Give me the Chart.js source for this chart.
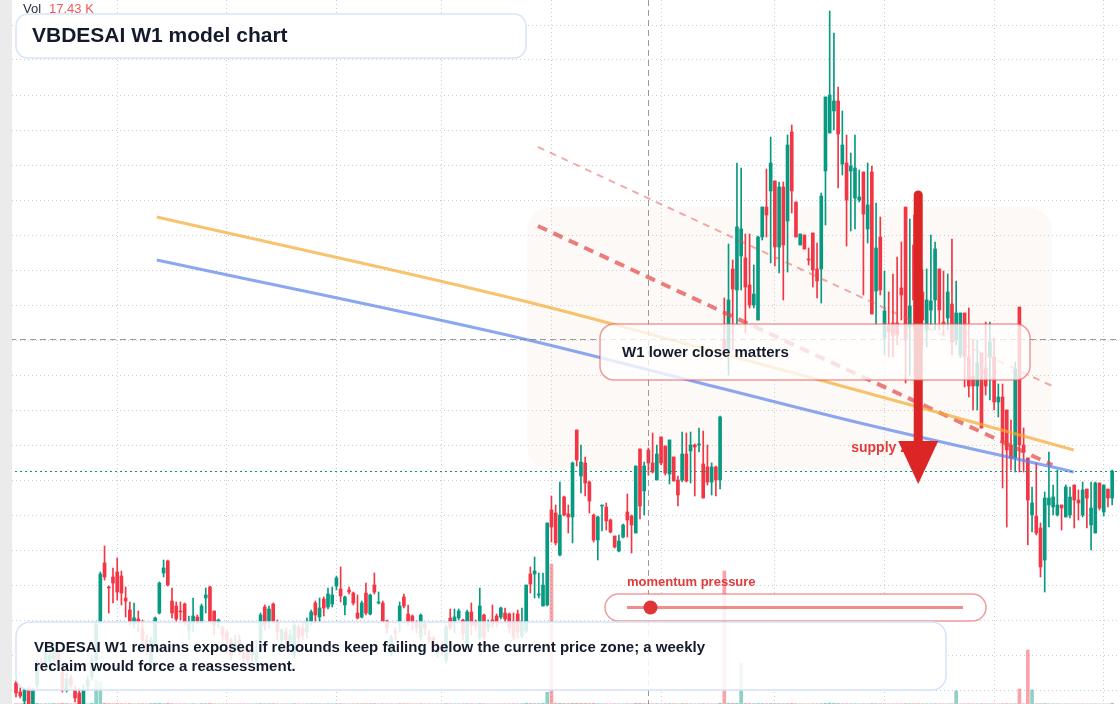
<!DOCTYPE html>
<html>
<head>
<meta charset="utf-8">
<title>VBDESAI W1 model chart</title>
<script src="https://cdn.jsdelivr.net/npm/chart.js@4.4.1/dist/chart.umd.min.js"></script>
<style>
  html, body { margin: 0; padding: 0; background: #fff; }
  #wrap { position: relative; width: 1120px; height: 704px; overflow: hidden; }
</style>
</head>
<body>
<div id="wrap"><canvas id="c" width="1120" height="704"></canvas></div>
<script>
// weekly candles, oldest first (index = week number)
const opens = [
  15.4, 13.6, 11.8, 14.2, 11.2, 15.0, 19.6, 19.2, 19.8, 20.2,
  21.6, 17.6, 14.0, 16.4, 14.0, 13.4, 11.2, 14.8, 16.6, 20.0,
  27.6, 39.4, 34.6, 36.6, 37.6, 36.8, 32.4, 30.0, 27.2, 28.2,
  26.4, 24.0, 19.0, 23.0, 29.4, 37.4, 39.8, 31.8, 30.8, 29.8,
  31.2, 26.0, 27.6, 28.6, 27.8, 32.4, 34.6, 29.8, 27.6, 26.4,
  25.4, 24.0, 22.0, 24.0, 21.0, 21.6, 21.0, 20.0, 24.0, 30.6,
  27.8, 31.2, 27.6, 24.0, 25.6, 23.6, 21.0, 26.6, 26.4, 25.6,
  27.6, 31.4, 28.6, 32.2, 30.6, 31.2, 34.8, 34.2, 31.0, 34.0,
  33.4, 29.4, 28.6, 33.4, 29.2, 35.0, 31.4, 31.4, 27.8, 21.4,
  25.8, 27.6, 32.6, 29.2, 28.8, 27.6, 24.6, 27.2, 24.6, 24.4,
  21.4, 23.0, 20.0, 28.4, 27.8, 28.4, 28.0, 23.0, 29.6, 27.6,
  24.4, 29.0, 26.4, 28.0, 28.8, 28.6, 29.4, 29.2, 27.6, 29.2,
  24.8, 25.8, 37.2, 37.2, 33.0, 30.8, 31.0, 50.0, 49.4, 41.0,
  52.6, 49.2, 48.6, 66.0, 56.8, 59.4, 55.6, 49.0, 44.0, 50.8,
  50.6, 48.0, 44.8, 41.8, 44.6, 49.6, 48.8, 45.4, 62.2, 53.8,
  62.0, 59.4, 56.0, 64.6, 62.8, 57.2, 60.6, 56.0, 56.0, 61.2,
  61.8, 63.0, 63.0, 59.2, 58.6, 55.6, 58.6, 56.0, 84.0, 82.0,
  98.2, 94.0, 100.8, 100.4, 95.0, 91.0, 88.0, 104.6, 110.6, 113.8,
  115.8, 102.6, 114.6, 107.8, 125.6, 111.6, 103.0, 105.0, 100.2, 105.4,
  98.2, 98.2, 117.8, 125.4, 129.8, 131.8, 119.2, 119.4, 117.8, 112.4,
  112.0, 117.6, 106.2, 117.6, 93.8, 104.6, 84.4, 86.8, 87.4, 87.4,
  94.4, 110.6, 86.6, 103.0, 96.0, 93.6, 86.0, 90.0, 92.0, 98.2,
  87.6, 88.4, 91.2, 84.0, 81.0, 89.4, 80.6, 76.8, 74.8, 81.4,
  78.4, 80.6, 80.6, 71.6, 72.6, 70.0, 63.0, 60.4, 90.6, 63.0,
  60.4, 49.0, 48.8, 46.4, 40.0, 51.0, 50.6, 49.0, 51.0, 48.6,
  49.0, 55.0, 52.0, 49.0, 54.2, 47.0, 45.4, 55.4, 49.6, 54.2,
  52.4
];
const highs = [
  15.8, 14.4, 14.2, 14.6, 14.4, 20.0, 20.6, 22.4, 22.0, 23.0,
  22.4, 18.4, 17.4, 17.0, 14.8, 14.4, 15.0, 16.8, 21.0, 27.6,
  37.6, 42.8, 34.8, 38.4, 40.4, 37.8, 34.6, 31.6, 31.4, 29.8,
  28.0, 25.0, 24.6, 28.6, 35.6, 40.0, 40.0, 34.4, 31.6, 31.6,
  31.4, 28.8, 32.4, 29.0, 31.2, 34.4, 34.8, 29.8, 28.2, 26.8,
  26.0, 24.4, 25.0, 25.0, 22.0, 22.4, 23.0, 24.0, 29.4, 31.0,
  30.8, 31.4, 28.0, 26.2, 26.4, 26.0, 27.6, 27.0, 27.6, 28.4,
  30.0, 31.8, 32.4, 32.6, 34.4, 34.6, 36.8, 38.6, 32.8, 34.6,
  33.6, 33.0, 31.8, 35.4, 33.2, 37.4, 33.6, 31.8, 28.0, 25.0,
  26.4, 31.6, 33.2, 31.0, 29.0, 27.8, 29.2, 27.6, 26.0, 24.8,
  23.6, 23.6, 27.0, 30.2, 30.2, 30.2, 28.2, 30.0, 31.4, 28.0,
  34.4, 29.2, 28.0, 31.0, 29.2, 30.6, 30.4, 29.4, 29.4, 30.0,
  30.4, 35.0, 38.6, 40.6, 37.4, 37.4, 47.4, 52.8, 51.0, 55.6,
  52.8, 51.0, 59.6, 66.0, 63.0, 60.6, 55.8, 49.2, 48.8, 51.0,
  51.4, 48.2, 44.8, 45.0, 47.2, 53.2, 49.0, 58.8, 62.2, 59.6,
  62.4, 65.4, 63.0, 64.6, 62.8, 64.0, 60.6, 56.8, 65.6, 65.4,
  65.6, 63.2, 66.4, 65.8, 63.0, 59.4, 58.8, 68.8, 92.4, 103.2,
  100.0, 119.4, 118.4, 105.2, 105.2, 99.0, 104.8, 110.6, 118.2, 124.6,
  115.8, 115.6, 115.6, 125.0, 127.0, 111.6, 105.2, 105.0, 102.4, 105.4,
  103.4, 113.4, 132.6, 149.8, 145.4, 134.6, 129.8, 125.0, 121.4, 125.0,
  118.0, 117.6, 119.4, 118.8, 111.4, 108.6, 97.8, 93.6, 97.2, 100.6,
  103.6, 110.6, 108.2, 109.0, 100.0, 98.0, 98.2, 105.0, 103.6, 98.2,
  97.8, 97.2, 104.2, 95.8, 89.4, 89.4, 90.4, 84.0, 84.0, 81.4,
  87.6, 87.6, 84.4, 75.2, 75.2, 70.0, 68.0, 79.6, 90.6, 66.4,
  60.4, 54.6, 59.4, 47.4, 53.6, 61.6, 55.0, 58.0, 51.0, 55.0,
  54.6, 55.0, 54.0, 55.6, 54.2, 55.6, 55.6, 55.4, 55.0, 54.2,
  58.0
];
const lows = [
  12.6, 12.4, 11.2, 10.8, 10.8, 14.4, 18.0, 18.8, 19.2, 19.6,
  18.6, 13.6, 13.6, 14.4, 11.6, 10.4, 10.4, 14.0, 16.0, 19.4,
  27.2, 36.0, 29.4, 31.4, 32.0, 31.0, 28.6, 27.0, 26.4, 25.6,
  23.0, 21.0, 18.4, 22.4, 29.2, 36.6, 34.8, 28.4, 27.6, 28.0,
  27.0, 24.0, 25.6, 27.2, 27.2, 29.4, 27.6, 25.0, 26.4, 24.0,
  21.4, 20.0, 21.6, 21.0, 19.6, 19.2, 19.6, 18.6, 23.0, 26.0,
  26.4, 27.4, 24.0, 22.0, 22.4, 22.0, 20.4, 23.4, 24.0, 24.4,
  27.0, 27.6, 27.6, 28.8, 30.2, 30.6, 34.0, 31.6, 29.0, 33.2,
  31.0, 28.2, 28.4, 29.0, 29.0, 33.2, 31.2, 27.6, 25.4, 20.8,
  24.0, 25.6, 30.4, 27.0, 26.0, 25.4, 24.0, 25.0, 23.4, 22.0,
  20.6, 21.0, 19.4, 26.0, 25.4, 28.0, 24.0, 22.4, 25.0, 26.0,
  24.0, 24.0, 25.6, 26.4, 26.6, 28.2, 27.4, 25.4, 24.0, 24.4,
  24.4, 25.4, 33.4, 32.4, 32.4, 30.8, 30.8, 43.6, 43.0, 40.8,
  48.8, 45.4, 43.4, 58.8, 53.4, 52.8, 49.4, 43.6, 40.0, 45.8,
  46.0, 45.4, 42.4, 41.6, 44.4, 44.6, 41.4, 45.4, 48.2, 49.0,
  57.0, 57.4, 56.0, 59.0, 57.0, 55.2, 55.8, 50.8, 55.6, 55.6,
  55.4, 52.8, 61.6, 52.4, 55.0, 53.0, 52.8, 54.2, 81.6, 77.0,
  82.0, 87.0, 94.0, 85.4, 90.4, 90.4, 88.0, 104.0, 104.6, 99.4,
  98.8, 97.4, 92.0, 97.6, 109.4, 104.6, 103.0, 102.2, 99.0, 94.6,
  92.4, 91.4, 107.0, 125.4, 126.0, 114.4, 117.0, 102.8, 105.8, 106.2,
  111.6, 93.0, 103.4, 89.2, 87.0, 93.0, 81.0, 80.6, 80.6, 83.0,
  88.0, 75.4, 77.0, 86.0, 84.0, 83.0, 82.6, 87.0, 86.0, 86.0,
  85.0, 86.0, 81.0, 83.0, 80.4, 74.6, 72.6, 70.0, 70.0, 66.4,
  73.0, 72.0, 70.0, 68.6, 54.4, 46.6, 58.0, 57.6, 57.6, 57.6,
  43.0, 45.6, 45.0, 36.6, 33.6, 46.6, 49.0, 48.8, 46.0, 48.6,
  48.4, 46.4, 48.0, 48.6, 46.4, 42.0, 45.4, 50.0, 48.8, 50.6,
  51.0
];
const closes = [
  13.4, 12.8, 14.0, 11.2, 14.0, 19.2, 18.6, 21.4, 21.0, 21.8,
  19.4, 14.4, 16.2, 15.0, 12.4, 11.2, 14.0, 16.0, 20.0, 27.2,
  37.2, 36.6, 34.4, 35.4, 33.6, 33.4, 31.8, 27.6, 28.4, 27.4,
  24.0, 22.4, 24.0, 28.4, 35.4, 38.4, 35.0, 29.4, 28.2, 29.6,
  27.6, 27.6, 28.8, 27.8, 30.8, 33.0, 27.8, 27.0, 28.0, 25.0,
  24.0, 21.0, 23.4, 22.0, 20.4, 20.0, 22.4, 21.6, 29.0, 27.0,
  30.2, 27.8, 25.6, 26.0, 24.0, 25.0, 27.0, 24.4, 25.0, 27.6,
  29.6, 29.0, 30.4, 30.4, 33.2, 33.0, 36.4, 32.8, 32.6, 33.6,
  31.4, 28.4, 31.4, 29.4, 33.0, 33.6, 31.6, 27.8, 26.4, 24.4,
  25.4, 30.8, 30.8, 27.6, 27.6, 26.4, 29.0, 26.4, 24.0, 22.6,
  22.6, 22.0, 26.6, 26.4, 28.6, 29.8, 25.4, 29.6, 27.0, 26.8,
  30.8, 24.6, 27.2, 27.2, 27.6, 30.4, 28.2, 26.4, 24.6, 25.6,
  27.6, 35.0, 35.2, 37.8, 33.2, 35.0, 47.4, 46.6, 43.4, 49.0,
  49.0, 48.6, 59.4, 60.0, 59.6, 55.4, 51.8, 44.0, 48.6, 51.0,
  47.8, 45.6, 42.6, 43.8, 47.0, 48.0, 47.0, 58.8, 50.8, 58.8,
  59.4, 57.6, 61.2, 59.4, 57.4, 64.0, 55.8, 53.0, 61.2, 55.8,
  63.0, 62.6, 63.2, 52.4, 55.6, 58.6, 56.0, 68.6, 82.4, 92.0,
  94.2, 106.6, 106.2, 94.6, 91.0, 93.2, 104.6, 110.6, 109.0, 119.4,
  102.6, 114.6, 103.0, 123.0, 113.8, 104.6, 105.2, 102.2, 100.0, 98.0,
  95.8, 112.8, 132.6, 133.0, 131.8, 125.2, 123.0, 112.0, 118.8, 118.4,
  112.6, 109.2, 111.0, 89.2, 102.4, 94.0, 89.8, 85.6, 84.8, 85.0,
  93.0, 84.0, 90.8, 92.0, 88.0, 88.0, 92.0, 91.8, 102.2, 90.0,
  87.2, 93.6, 83.6, 89.4, 89.4, 80.6, 74.8, 74.8, 79.4, 66.4,
  74.8, 83.6, 71.6, 72.6, 63.6, 62.0, 60.4, 78.2, 63.0, 61.6,
  52.0, 51.4, 45.4, 38.6, 52.4, 52.4, 52.6, 51.0, 50.4, 54.6,
  52.6, 52.0, 51.4, 54.0, 52.4, 50.4, 55.4, 50.4, 55.0, 52.4,
  57.8
];
// weekly volume, thousands
const volumes = [
  8, 6, 12, 9, 11, 14, 5, 7, 6, 10,
  7, 13, 9, 4, 6, 12, 10, 3, 15, 510,
  470, 18, 9, 6, 11, 8, 5, 9, 4, 6,
  8, 5, 11, 14, 16, 9, 15, 7, 5, 4,
  6, 3, 7, 3, 9, 8, 12, 5, 3, 4,
  5, 4, 3, 5, 3, 5, 3, 4, 10, 6,
  8, 9, 5, 3, 4, 3, 8, 4, 3, 5,
  7, 6, 6, 4, 7, 5, 9, 8, 4, 3,
  5, 6, 6, 8, 7, 9, 3, 6, 4, 5,
  3, 7, 6, 5, 3, 3, 6, 3, 4, 3,
  3, 2, 8, 5, 4, 4, 5, 7, 6, 3,
  9, 6, 3, 4, 3, 4, 5, 5, 6, 5,
  8, 17, 13, 10, 9, 16, 250, 2980, 18, 15,
  12, 10, 16, 17, 11, 13, 9, 14, 8, 6,
  5, 4, 6, 3, 4, 7, 5, 15, 14, 9,
  8, 6, 7, 5, 6, 10, 7, 5, 9, 8,
  5, 4, 4, 9, 5, 4, 4, 16, 2830, 17,
  15, 14, 870, 12, 10, 8, 11, 10, 9, 12,
  10, 9, 8, 11, 13, 7, 5, 4, 3, 6,
  5, 8, 15, 21, 16, 12, 7, 8, 5, 6,
  4, 7, 5, 10, 8, 6, 6, 4, 4, 5,
  5, 9, 7, 6, 7, 5, 5, 4, 6, 5,
  3, 4, 6, 280, 3, 5, 6, 4, 4, 7,
  4, 5, 5, 3, 7, 8, 5, 6, 320, 5,
  1150, 300, 6, 8, 9, 4, 3, 3, 2, 3,
  2, 2, 2, 3, 2, 2, 3, 2, 2, 2,
  17.43
];

// half-year boundaries (week index) used for the vertical grid
const halfYearWeeks = [24, 50, 76, 101, 127, 153, 180, 206, 232, 258];

// model curves
const curveWeeks = [33.4, 119.5, 167, 200.2, 250.9];
const upperModel = [108.6, 92.0, 81.4, 73.8, 62.0];
const lowerModel = [100.0, 84.4, 74.4, 67.4, 57.6];

// falling channel
const channelWeeks = [123.8, 245.8];
const channelTop = [122.6, 74.8];
const channelBase = [106.8, 59.0];

// supply zone and call-outs
const zoneWeeks = [121.2, 245.7];
const zonePrices = [110.6, 58.0];
const arrowWeek = 214;
const arrowPrices = [113.0, 55.2];
const crossWeek = 150;
const crossPrice = 84.2;
const momentum = 0.07;

const UP = '#089981', DOWN = '#f23645';
const isUp = i => closes[i] >= opens[i];

const bodies = opens.map((o, i) => ({ x: i, y: [o, closes[i]] }));
const wicks = opens.map((o, i) => ({ x: i, y: [lows[i], highs[i]] }));
const vols = volumes.map((v, i) => ({ x: i, y: v }));
const pts = (xs, ys) => xs.map((x, i) => ({ x: x, y: ys[i] }));

function rr(ctx, x, y, w, h, r) {
  ctx.beginPath();
  ctx.moveTo(x + r, y);
  ctx.lineTo(x + w - r, y);
  ctx.arcTo(x + w, y, x + w, y + r, r);
  ctx.lineTo(x + w, y + h - r);
  ctx.arcTo(x + w, y + h, x + w - r, y + h, r);
  ctx.lineTo(x + r, y + h);
  ctx.arcTo(x, y + h, x, y + h - r, r);
  ctx.lineTo(x, y + r);
  ctx.arcTo(x, y, x + r, y, r);
  ctx.closePath();
}

const FONT = '"Liberation Sans", Arial, sans-serif';
const INK = '#131a2c';

const overlay = {
  id: 'overlay',
  beforeDatasetsDraw(chart) {
    const { ctx, scales: { x, y } } = chart;
    const x0 = x.getPixelForValue(zoneWeeks[0]), x1 = x.getPixelForValue(zoneWeeks[1]);
    const y0 = y.getPixelForValue(zonePrices[0]), y1 = y.getPixelForValue(zonePrices[1]);
    ctx.save();
    ctx.fillStyle = 'rgba(240,200,170,0.1)';
    rr(ctx, x0, y0, x1 - x0, y1 - y0, 24);
    ctx.fill();
    ctx.restore();
  },
  afterDatasetsDraw(chart) {
    const { ctx, chartArea: a, scales: { x, y } } = chart;
    ctx.save();

    // last price line
    const py = Math.round(y.getPixelForValue(closes[closes.length - 1])) + 0.5;
    ctx.strokeStyle = UP;
    ctx.lineWidth = 1;
    ctx.setLineDash([2, 3]);
    ctx.beginPath(); ctx.moveTo(a.left, py); ctx.lineTo(a.right, py); ctx.stroke();

    // crosshair
    const cx = Math.round(x.getPixelForValue(crossWeek)) + 0.5;
    const cy = Math.round(y.getPixelForValue(crossPrice)) + 0.5;
    ctx.strokeStyle = 'rgba(120,120,120,0.75)';
    ctx.setLineDash([6, 4]);
    ctx.beginPath(); ctx.moveTo(cx, a.top); ctx.lineTo(cx, a.bottom); ctx.stroke();
    ctx.beginPath(); ctx.moveTo(a.left, cy); ctx.lineTo(a.right, cy); ctx.stroke();
    ctx.setLineDash([]);

    // supply zone label + arrow
    const ax = x.getPixelForValue(arrowWeek);
    const ayTop = y.getPixelForValue(arrowPrices[0]);
    const ayTip = y.getPixelForValue(arrowPrices[1]);
    ctx.font = 'bold 14px ' + FONT;
    ctx.fillStyle = '#e23c3c';
    ctx.textBaseline = 'middle';
    ctx.fillText('supply zone', ax - 67, 448);
    ctx.strokeStyle = '#dc2626';
    ctx.fillStyle = '#dc2626';
    ctx.lineWidth = 9;
    ctx.lineCap = 'round';
    ctx.beginPath(); ctx.moveTo(ax, ayTop); ctx.lineTo(ax, ayTip - 40); ctx.stroke();
    ctx.beginPath();
    ctx.moveTo(ax - 20, ayTip - 43);
    ctx.lineTo(ax + 20, ayTip - 43);
    ctx.lineTo(ax, ayTip);
    ctx.closePath();
    ctx.fill();
    ctx.lineCap = 'butt';

    // W1 call-out
    rr(ctx, 600, 324, 430, 56, 14);
    ctx.fillStyle = 'rgba(255,255,255,0.78)';
    ctx.fill();
    ctx.strokeStyle = 'rgba(232,90,90,0.6)';
    ctx.lineWidth = 1.5;
    ctx.stroke();
    ctx.fillStyle = INK;
    ctx.font = 'bold 15px ' + FONT;
    ctx.fillText('W1 lower close matters', 622, 353);

    // momentum gauge
    ctx.font = 'bold 13px ' + FONT;
    ctx.fillStyle = '#e03a3a';
    ctx.fillText('momentum pressure', 627, 582);
    rr(ctx, 605, 594, 381, 27, 13.5);
    ctx.fillStyle = 'rgba(255,255,255,0.85)';
    ctx.fill();
    ctx.strokeStyle = 'rgba(232,90,90,0.6)';
    ctx.stroke();
    ctx.strokeStyle = 'rgba(230,80,80,0.65)';
    ctx.lineWidth = 3;
    ctx.beginPath(); ctx.moveTo(627, 607.5); ctx.lineTo(963, 607.5); ctx.stroke();
    ctx.fillStyle = '#e03535';
    ctx.beginPath(); ctx.arc(627 + momentum * 336, 607.5, 7, 0, Math.PI * 2); ctx.fill();

    // caption
    rr(ctx, 16, 622, 930, 68, 14);
    ctx.fillStyle = 'rgba(255,255,255,0.86)';
    ctx.fill();
    ctx.strokeStyle = '#d6e4f7';
    ctx.lineWidth = 1.5;
    ctx.stroke();
    ctx.fillStyle = INK;
    ctx.font = 'bold 15px ' + FONT;
    ctx.fillText('VBDESAI W1 remains exposed if rebounds keep failing below the current price zone; a weekly', 34, 648);
    ctx.fillText('reclaim would force a reassessment.', 34, 667);

    // title
    rr(ctx, 16, 14, 510, 44, 12);
    ctx.fillStyle = 'rgba(255,255,255,0.92)';
    ctx.fill();
    ctx.strokeStyle = '#d6e4f7';
    ctx.stroke();
    ctx.fillStyle = INK;
    ctx.font = 'bold 21px ' + FONT;
    ctx.fillText('VBDESAI W1 model chart', 32, 36);

    // volume readout
    ctx.font = '13px ' + FONT;
    ctx.fillStyle = '#2a2e39';
    ctx.fillText('Vol', 23, 9);
    ctx.fillStyle = '#f05a5a';
    ctx.fillText(volumes[volumes.length - 1].toFixed(2) + ' K', 49, 9);

    // left pane edge
    ctx.fillStyle = '#ebebeb';
    ctx.fillRect(0, 0, 12, 704);
    ctx.restore();
  }
};

const gridStyle = { color: 'rgba(0,0,0,0.2)', lineWidth: 1, drawTicks: false, offset: false };

new Chart(document.getElementById('c'), {
  type: 'bar',
  data: {
    datasets: [
      { type: 'line', data: pts(curveWeeks, upperModel), borderColor: 'rgba(245,170,50,0.7)', borderWidth: 3,
        pointRadius: 0, cubicInterpolationMode: 'monotone', order: 0 },
      { type: 'line', data: pts(curveWeeks, lowerModel), borderColor: 'rgba(90,130,235,0.7)', borderWidth: 3,
        pointRadius: 0, cubicInterpolationMode: 'monotone', order: 0 },
      { type: 'line', data: pts(channelWeeks, channelTop), borderColor: 'rgba(230,90,90,0.5)', borderWidth: 2,
        borderDash: [7, 6], pointRadius: 0, order: 0 },
      { type: 'line', data: pts(channelWeeks, channelBase), borderColor: 'rgba(225,70,70,0.7)', borderWidth: 4,
        borderDash: [10, 7], pointRadius: 0, order: 0 },
      { data: bodies, backgroundColor: c => isUp(c.dataIndex) ? UP : DOWN,
        barThickness: 3, minBarLength: 1, grouped: false, order: 1 },
      { data: wicks, backgroundColor: c => isUp(c.dataIndex) ? UP : DOWN,
        barThickness: 1, grouped: false, order: 2 },
      { data: vols, yAxisID: 'yv', backgroundColor: c => isUp(c.dataIndex) ? 'rgba(8,153,129,0.45)' : 'rgba(242,54,69,0.45)',
        barThickness: 3, grouped: false, order: 3 }
    ]
  },
  options: {
    responsive: false,
    animation: false,
    events: [],
    layout: { padding: 0 },
    plugins: { legend: { display: false }, tooltip: { enabled: false } },
    scales: {
      x: {
        type: 'linear', min: -3.8, max: 261.86, offset: false,
        ticks: { display: false },
        grid: gridStyle,
        border: { display: false, dash: [1, 3] },
        afterBuildTicks: s => { s.ticks = halfYearWeeks.map(v => ({ value: v })); },
        afterFit: s => { s.height = 0; }
      },
      y: {
        min: 11.2, max: 152,
        ticks: { display: false },
        grid: gridStyle,
        border: { display: false, dash: [1, 3] },
        afterBuildTicks: s => {
          const t = [];
          for (let v = 14; v <= 147; v += 7) t.push({ value: v });
          s.ticks = t;
        },
        afterFit: s => { s.width = 0; }
      },
      yv: { display: false, min: 0, max: 15000 }
    }
  },
  plugins: [overlay]
});
</script>
</body>
</html>
